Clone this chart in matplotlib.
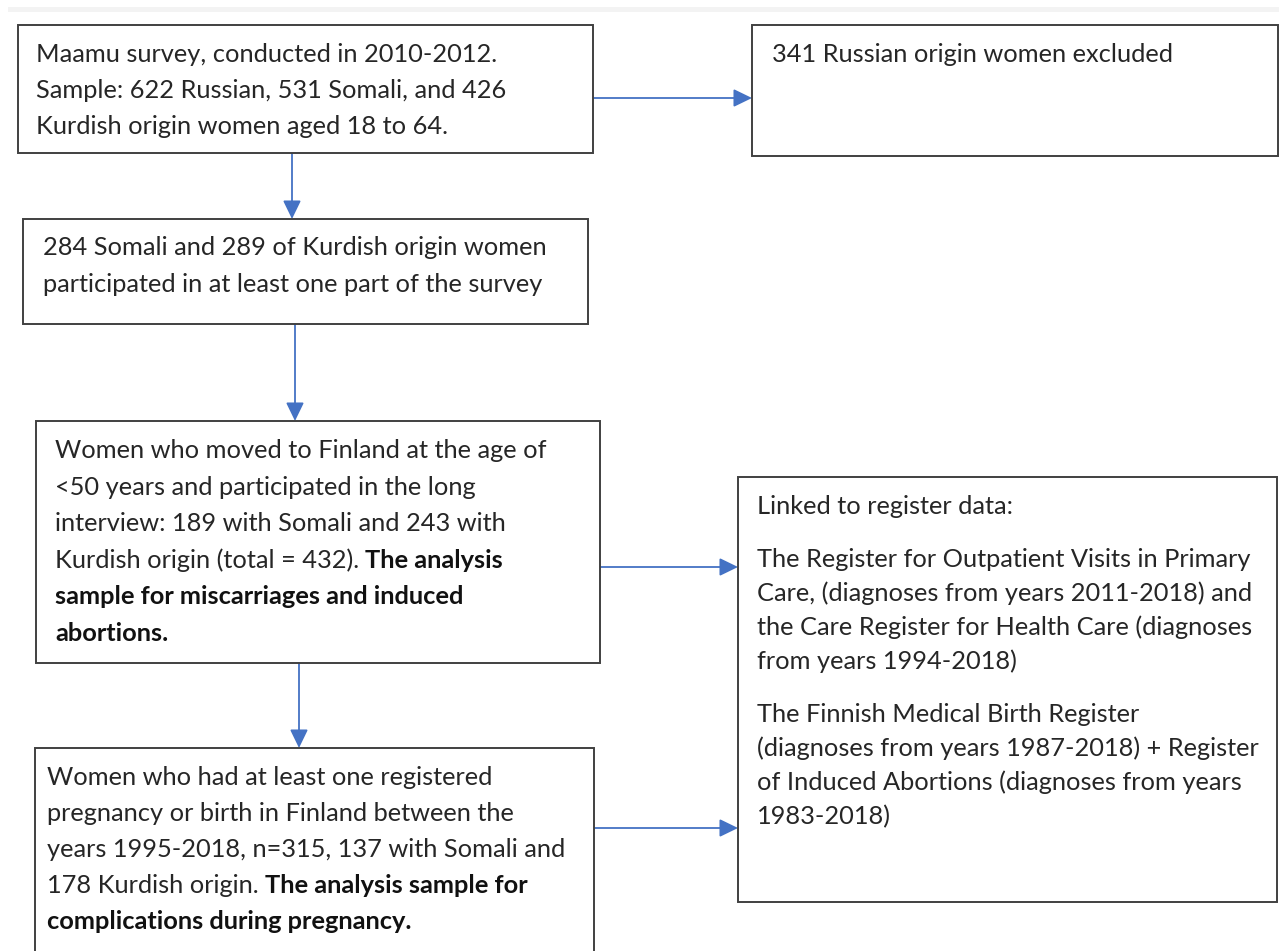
import matplotlib
matplotlib.use('Agg')
import matplotlib.pyplot as plt
from matplotlib.patches import Rectangle

# Flowchart text (each line: list of (text, bold) pieces)
maamu_lines = [
    [("Maamu survey, conducted in 2010-2012.", False)],
    [("Sample: 622 Russian, 531 Somali, and 426", False)],
    [("Kurdish origin women aged 18 to 64.", False)],
]
excluded_lines = [
    [("341 Russian origin women excluded", False)],
]
participated_lines = [
    [("284 Somali and 289 of Kurdish origin women", False)],
    [("participated in at least one part of the survey", False)],
]
moved_lines = [
    [("Women who moved to Finland at the age of", False)],
    [("<50 years and participated in the long", False)],
    [("interview: 189 with Somali and 243 with", False)],
    [("Kurdish origin (total = 432).", False), ("The analysis", True)],
    [("sample for miscarriages and induced", True)],
    [("abortions.", True)],
]
pregnancy_lines = [
    [("Women who had at least one registered", False)],
    [("pregnancy or birth in Finland between the", False)],
    [("years 1995-2018, n=315, 137 with Somali and", False)],
    [("178 Kurdish origin.", False), ("The analysis sample for", True)],
    [("complications during pregnancy.", True)],
]
register_paragraphs = [
    ["Linked to register data:"],
    ["The Register for Outpatient Visits in Primary",
     "Care, (diagnoses from years 2011-2018) and",
     "the Care Register for Health Care (diagnoses",
     "from years 1994-2018)"],
    ["The Finnish Medical Birth Register",
     "(diagnoses from years 1987-2018) + Register",
     "of Induced Abortions (diagnoses from years",
     "1983-2018)"],
]

# style
myfont = ['Lato', 'DejaVu Sans']
fsize = 18.3
textcolor = '#262626'
edgecolor = '#404040'
arrowcolor = '#4472c4'

fig = plt.figure(figsize=(12.79, 9.51), dpi=100)
ax = fig.add_axes([0, 0, 1, 1])
ax.set_xlim(0, 1279)
ax.set_ylim(951, 0)
ax.axis('off')

# thin grey band at the very top
ax.add_patch(Rectangle((8, 7), 1279, 5, facecolor='#f3f3f3', edgecolor='none'))


def draw_box(x0, y0, x1, y1):
    ax.add_patch(Rectangle((x0, y0), x1 - x0, y1 - y0, facecolor='white',
                           edgecolor=edgecolor, linewidth=1.4, zorder=2))


def draw_lines(lines, x, first_base, step):
    for i, line in enumerate(lines):
        y = first_base + i * step
        prev = None
        for txt, bold in line:
            w = 'bold' if bold else 'normal'
            c = '#111111' if bold else textcolor
            if prev is None:
                prev = ax.text(x, y, txt, fontsize=fsize, fontweight=w, color=c,
                               family=myfont, va='baseline', ha='left', zorder=3)
            else:
                prev = ax.annotate(txt, xy=(1, 0), xycoords=prev, xytext=(6, 0),
                                   textcoords='offset pixels', fontsize=fsize,
                                   fontweight=w, color=c, family=myfont,
                                   va='bottom', ha='left', zorder=3)


def arrow(x0, y0, x1, y1):
    ax.annotate('', xy=(x1, y1), xytext=(x0, y0),
                arrowprops=dict(arrowstyle='-|>,head_length=0.7,head_width=0.34',
                                color=arrowcolor, lw=1.3, mutation_scale=16,
                                shrinkA=0, shrinkB=0), zorder=1)


# boxes
draw_box(18, 25, 593, 153)
draw_box(752, 25, 1278, 156)
draw_box(23, 219, 588, 324)
draw_box(36, 421, 600, 663)
draw_box(738, 477, 1277, 902)
draw_box(35, 748, 594, 965)

# arrows
arrow(593, 98, 752, 98)
arrow(292, 153, 292, 219)
arrow(295, 324, 295, 421)
arrow(600, 567, 738, 567)
arrow(299, 663, 299, 748)
arrow(594, 828, 738, 828)

# texts
draw_lines(maamu_lines, 36, 62, 36)
draw_lines(excluded_lines, 772, 62, 36)
draw_lines(participated_lines, 43, 255, 37)
draw_lines(moved_lines, 55, 458, 36.6)
draw_lines(pregnancy_lines, 47, 785, 36)

base = 514
for para in register_paragraphs:
    draw_lines([[(t, False)] for t in para], 757, base, 34)
    base += 34 * (len(para) - 1) + 53

fig.savefig('out.png', dpi=100, facecolor='white')
